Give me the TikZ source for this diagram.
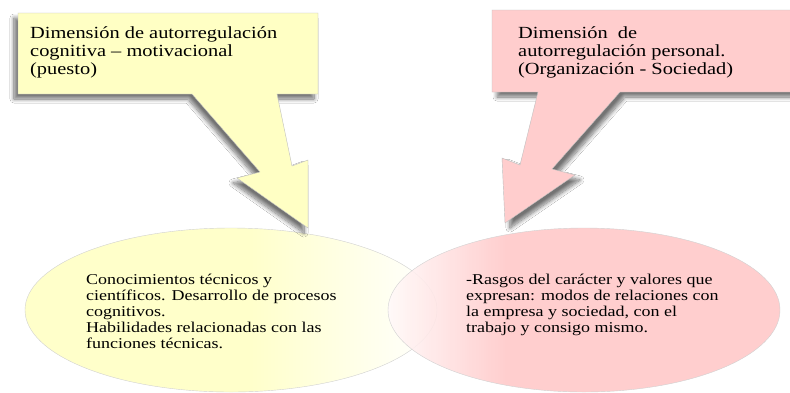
\documentclass[tikz,border=0pt]{standalone}
\usepackage{fontspec}
\setmainfont[FakeStretch=1.2]{Liberation Serif}
\usetikzlibrary{shadows.blur}
\definecolor{yelbox}{RGB}{255,255,196}
\definecolor{yelfill}{RGB}{255,255,202}
\definecolor{pinkbox}{RGB}{255,205,205}
\definecolor{pinkfill}{RGB}{255,200,200}
\pgfdeclarehorizontalshading{yelfade}{100bp}{color(0bp)=(yelfill); color(52bp)=(yelfill); color(75bp)=(white); color(100bp)=(white)}
\pgfdeclarehorizontalshading{pinkfade}{100bp}{color(0bp)=(white); color(25bp)=(white!90!pinkfill); color(40bp)=(pinkfill); color(100bp)=(pinkfill)}
\begin{document}
\begin{tikzpicture}[x=1pt,y=-1pt,line join=round,
  callout/.style={draw=black!25,line width=0.4pt},
  bubble/.style={draw=black!18,line width=0.4pt},
  shade/.style={blur shadow={shadow xshift=#1,shadow yshift=-5pt,shadow blur steps=10,shadow blur radius=4pt,shadow opacity=55}},
  boxtext/.style={anchor=base west,inner sep=0pt,align=left,font=\fontsize{17}{18}\selectfont},
  infotext/.style={anchor=base west,inner sep=0pt,align=left,font=\fontsize{15}{15.8}\selectfont}]
\useasboundingbox (0,0) rectangle (790,392);
\fill[white] (0,0) rectangle (790,392);
% bubbles
\draw[bubble,shading=yelfade] (231,310) ellipse (206 and 82);
\draw[bubble,shading=pinkfade,fill opacity=0.88] (584,310) ellipse (196 and 82);
% callouts
\draw[callout,fill=yelbox,shade=-4pt]
  (18,13) -- (318,13) -- (318,94) -- (277,94) -- (292,166) -- (308,160) -- (308,228)
  -- (237,178) -- (260,172) -- (192,94) -- (18,94) -- cycle;
\draw[callout,fill=pinkbox,shade=5pt]
  (492,10) -- (800,10) -- (800,92) -- (620,92) -- (552,169) -- (575,175) -- (505,223)
  -- (502,158) -- (520,165) -- (538,92) -- (492,92) -- cycle;
% texts (base = last line)
\node[boxtext] (ytitle) at (30,74) {Dimensión de autorregulación\\cognitiva -- motivacional\\(puesto)};
\node[boxtext] (ptitle) at (518,74) {Dimensión\ \ de\\autorregulación personal.\\(Organización - Sociedad)};
\node[infotext] (yinfo) at (86,348) {Conocimientos técnicos y\\científicos. Desarrollo de procesos\\cognitivos.\\Habilidades relacionadas con las\\funciones técnicas.};
\node[infotext] (pinfo) at (466,332) {-Rasgos del carácter y valores que\\expresan: modos de relaciones con\\la empresa y sociedad, con el\\trabajo y consigo mismo.};
\end{tikzpicture}
\end{document}
